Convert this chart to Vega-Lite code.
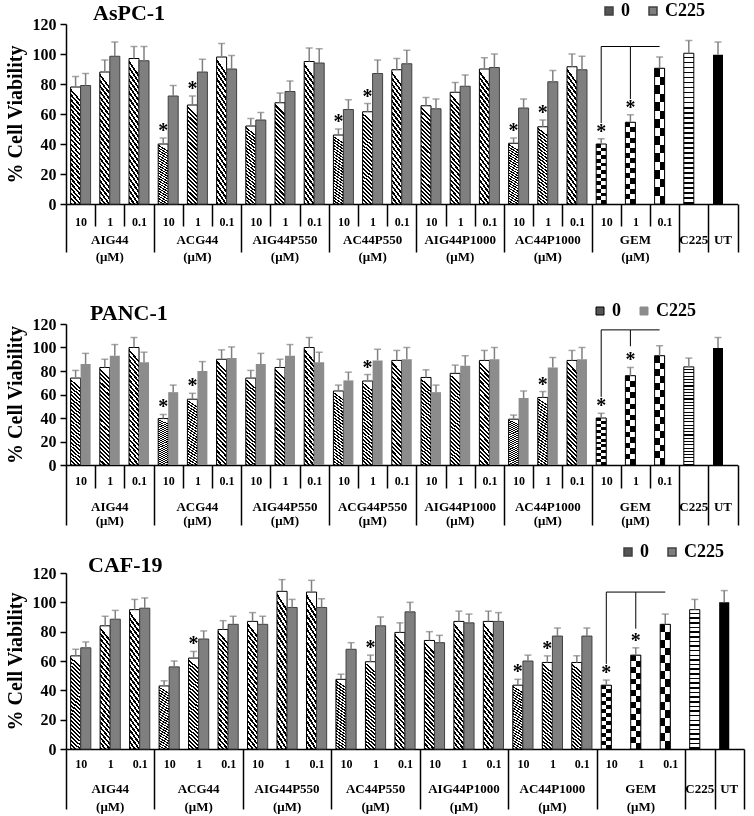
{
"$schema": "https://vega.github.io/schema/vega-lite/v6.json",
"background": "white",
"padding": {"left": 4, "top": 2, "right": 4, "bottom": 2},
"config": {
  "font": "Liberation Serif",
  "view": {"stroke": null},
  "title": {"font": "Liberation Serif", "fontSize": 22, "fontWeight": "bold", "color": "black"}
},
"datasets": {
  "p1": [
    {"g":"AIG44","k":"AIG44|10","s":"0","v":78,"hi":85},
    {"g":"AIG44","k":"AIG44|10","s":"C225","v":79,"hi":87},
    {"g":"AIG44","k":"AIG44|1","s":"0","v":88,"hi":96},
    {"g":"AIG44","k":"AIG44|1","s":"C225","v":98.5,"hi":108},
    {"g":"AIG44","k":"AIG44|0.1","s":"0","v":97,"hi":105},
    {"g":"AIG44","k":"AIG44|0.1","s":"C225","v":95.5,"hi":105},
    {"g":"ACG44","k":"ACG44|10","s":"0","v":40,"hi":44,"star":1},
    {"g":"ACG44","k":"ACG44|10","s":"C225","v":72,"hi":79},
    {"g":"ACG44","k":"ACG44|1","s":"0","v":66,"hi":72,"star":1},
    {"g":"ACG44","k":"ACG44|1","s":"C225","v":88,"hi":96.5},
    {"g":"ACG44","k":"ACG44|0.1","s":"0","v":98,"hi":107},
    {"g":"ACG44","k":"ACG44|0.1","s":"C225","v":90,"hi":99},
    {"g":"AIG44P550","k":"AIG44P550|10","s":"0","v":52,"hi":57},
    {"g":"AIG44P550","k":"AIG44P550|10","s":"C225","v":56,"hi":61},
    {"g":"AIG44P550","k":"AIG44P550|1","s":"0","v":67.5,"hi":74},
    {"g":"AIG44P550","k":"AIG44P550|1","s":"C225","v":75,"hi":82},
    {"g":"AIG44P550","k":"AIG44P550|0.1","s":"0","v":95,"hi":104},
    {"g":"AIG44P550","k":"AIG44P550|0.1","s":"C225","v":94,"hi":103.5},
    {"g":"AC44P550","k":"AC44P550|10","s":"0","v":46,"hi":50,"star":1},
    {"g":"AC44P550","k":"AC44P550|10","s":"C225","v":63,"hi":69.5},
    {"g":"AC44P550","k":"AC44P550|1","s":"0","v":61.5,"hi":67,"star":1},
    {"g":"AC44P550","k":"AC44P550|1","s":"C225","v":87,"hi":96},
    {"g":"AC44P550","k":"AC44P550|0.1","s":"0","v":89.5,"hi":97},
    {"g":"AC44P550","k":"AC44P550|0.1","s":"C225","v":93.5,"hi":102.5},
    {"g":"AIG44P1000","k":"AIG44P1000|10","s":"0","v":65.5,"hi":71},
    {"g":"AIG44P1000","k":"AIG44P1000|10","s":"C225","v":63.5,"hi":70},
    {"g":"AIG44P1000","k":"AIG44P1000|1","s":"0","v":74.5,"hi":81},
    {"g":"AIG44P1000","k":"AIG44P1000|1","s":"C225","v":78.5,"hi":86},
    {"g":"AIG44P1000","k":"AIG44P1000|0.1","s":"0","v":90,"hi":97.5},
    {"g":"AIG44P1000","k":"AIG44P1000|0.1","s":"C225","v":91,"hi":100},
    {"g":"AC44P1000","k":"AC44P1000|10","s":"0","v":40.5,"hi":44,"star":1},
    {"g":"AC44P1000","k":"AC44P1000|10","s":"C225","v":64,"hi":70},
    {"g":"AC44P1000","k":"AC44P1000|1","s":"0","v":51.5,"hi":56,"star":1},
    {"g":"AC44P1000","k":"AC44P1000|1","s":"C225","v":81.5,"hi":89},
    {"g":"AC44P1000","k":"AC44P1000|0.1","s":"0","v":91.5,"hi":100},
    {"g":"AC44P1000","k":"AC44P1000|0.1","s":"C225","v":89.5,"hi":98.5},
    {"g":"GEM","k":"GEM|10","s":"0","v":40,"hi":43.5,"star":1,"bk":105,"lo":54},
    {"g":"GEM","k":"GEM|1","s":"0","v":54.5,"hi":59.5,"star":1,"bk":105,"lo":70},
    {"g":"GEM","k":"GEM|0.1","s":"0","v":90.5,"hi":98,"bk":105},
    {"g":"C225","k":"C225|x","s":"0","v":100.5,"hi":109},
    {"g":"UT","k":"UT|x","s":"0","v":99.5,"hi":108}
  ],
  "p2": [
    {"g":"AIG44","k":"AIG44|10","s":"0","v":74,"hi":80.5},
    {"g":"AIG44","k":"AIG44|10","s":"C225","v":86,"hi":95},
    {"g":"AIG44","k":"AIG44|1","s":"0","v":83,"hi":90},
    {"g":"AIG44","k":"AIG44|1","s":"C225","v":93,"hi":102.5},
    {"g":"AIG44","k":"AIG44|0.1","s":"0","v":100,"hi":108.5},
    {"g":"AIG44","k":"AIG44|0.1","s":"C225","v":87.5,"hi":96},
    {"g":"ACG44","k":"ACG44|10","s":"0","v":39.5,"hi":43,"star":1},
    {"g":"ACG44","k":"ACG44|10","s":"C225","v":62,"hi":68},
    {"g":"ACG44","k":"ACG44|1","s":"0","v":56,"hi":61,"star":1},
    {"g":"ACG44","k":"ACG44|1","s":"C225","v":80,"hi":88},
    {"g":"ACG44","k":"ACG44|0.1","s":"0","v":90,"hi":98},
    {"g":"ACG44","k":"ACG44|0.1","s":"C225","v":91,"hi":100.5},
    {"g":"AIG44P550","k":"AIG44P550|10","s":"0","v":74,"hi":80.5},
    {"g":"AIG44P550","k":"AIG44P550|10","s":"C225","v":86,"hi":95},
    {"g":"AIG44P550","k":"AIG44P550|1","s":"0","v":83,"hi":90},
    {"g":"AIG44P550","k":"AIG44P550|1","s":"C225","v":93,"hi":102.5},
    {"g":"AIG44P550","k":"AIG44P550|0.1","s":"0","v":100,"hi":108.5},
    {"g":"AIG44P550","k":"AIG44P550|0.1","s":"C225","v":87.5,"hi":96},
    {"g":"ACG44P550","k":"ACG44P550|10","s":"0","v":63,"hi":68},
    {"g":"ACG44P550","k":"ACG44P550|10","s":"C225","v":72,"hi":79},
    {"g":"ACG44P550","k":"ACG44P550|1","s":"0","v":71.5,"hi":77,"star":1},
    {"g":"ACG44P550","k":"ACG44P550|1","s":"C225","v":89,"hi":98.5},
    {"g":"ACG44P550","k":"ACG44P550|0.1","s":"0","v":89,"hi":97.5},
    {"g":"ACG44P550","k":"ACG44P550|0.1","s":"C225","v":90,"hi":100},
    {"g":"AIG44P1000","k":"AIG44P1000|10","s":"0","v":74.5,"hi":81},
    {"g":"AIG44P1000","k":"AIG44P1000|10","s":"C225","v":62,"hi":68},
    {"g":"AIG44P1000","k":"AIG44P1000|1","s":"0","v":78,"hi":85},
    {"g":"AIG44P1000","k":"AIG44P1000|1","s":"C225","v":84.5,"hi":93},
    {"g":"AIG44P1000","k":"AIG44P1000|0.1","s":"0","v":89,"hi":97.5},
    {"g":"AIG44P1000","k":"AIG44P1000|0.1","s":"C225","v":90,"hi":100},
    {"g":"AC44P1000","k":"AC44P1000|10","s":"0","v":39,"hi":42.5},
    {"g":"AC44P1000","k":"AC44P1000|10","s":"C225","v":57,"hi":63},
    {"g":"AC44P1000","k":"AC44P1000|1","s":"0","v":57.5,"hi":62.5,"star":1},
    {"g":"AC44P1000","k":"AC44P1000|1","s":"C225","v":83,"hi":91.5},
    {"g":"AC44P1000","k":"AC44P1000|0.1","s":"0","v":89,"hi":97.5},
    {"g":"AC44P1000","k":"AC44P1000|0.1","s":"C225","v":90,"hi":100},
    {"g":"GEM","k":"GEM|10","s":"0","v":40,"hi":44,"star":1,"bk":115,"lo":58},
    {"g":"GEM","k":"GEM|1","s":"0","v":76,"hi":83,"star":1,"bk":115,"lo":101},
    {"g":"GEM","k":"GEM|0.1","s":"0","v":93,"hi":101.5,"bk":115},
    {"g":"C225","k":"C225|x","s":"0","v":83.5,"hi":91},
    {"g":"UT","k":"UT|x","s":"0","v":99.5,"hi":108.5}
  ],
  "p3": [
    {"g":"AIG44","k":"AIG44|10","s":"0","v":63.5,"hi":68},
    {"g":"AIG44","k":"AIG44|10","s":"C225","v":69,"hi":73},
    {"g":"AIG44","k":"AIG44|1","s":"0","v":84,"hi":90.5},
    {"g":"AIG44","k":"AIG44|1","s":"C225","v":88.5,"hi":94.5},
    {"g":"AIG44","k":"AIG44|0.1","s":"0","v":95,"hi":102},
    {"g":"AIG44","k":"AIG44|0.1","s":"C225","v":96,"hi":103},
    {"g":"ACG44","k":"ACG44|10","s":"0","v":43,"hi":46.5},
    {"g":"ACG44","k":"ACG44|10","s":"C225","v":56,"hi":60},
    {"g":"ACG44","k":"ACG44|1","s":"0","v":62,"hi":66.5,"star":1},
    {"g":"ACG44","k":"ACG44|1","s":"C225","v":75,"hi":80.5},
    {"g":"ACG44","k":"ACG44|0.1","s":"0","v":81.5,"hi":87.5},
    {"g":"ACG44","k":"ACG44|0.1","s":"C225","v":85,"hi":90.5},
    {"g":"AIG44P550","k":"AIG44P550|10","s":"0","v":87,"hi":93},
    {"g":"AIG44P550","k":"AIG44P550|10","s":"C225","v":85,"hi":90.5},
    {"g":"AIG44P550","k":"AIG44P550|1","s":"0","v":107.5,"hi":115.5},
    {"g":"AIG44P550","k":"AIG44P550|1","s":"C225","v":96.5,"hi":102},
    {"g":"AIG44P550","k":"AIG44P550|0.1","s":"0","v":107,"hi":115},
    {"g":"AIG44P550","k":"AIG44P550|0.1","s":"C225","v":96.5,"hi":102.5},
    {"g":"AC44P550","k":"AC44P550|10","s":"0","v":47.5,"hi":51},
    {"g":"AC44P550","k":"AC44P550|10","s":"C225","v":68,"hi":72.5},
    {"g":"AC44P550","k":"AC44P550|1","s":"0","v":59.5,"hi":64,"star":1},
    {"g":"AC44P550","k":"AC44P550|1","s":"C225","v":84,"hi":90},
    {"g":"AC44P550","k":"AC44P550|0.1","s":"0","v":79.5,"hi":86},
    {"g":"AC44P550","k":"AC44P550|0.1","s":"C225","v":93.5,"hi":100},
    {"g":"AIG44P1000","k":"AIG44P1000|10","s":"0","v":74,"hi":80},
    {"g":"AIG44P1000","k":"AIG44P1000|10","s":"C225","v":72.5,"hi":77.5},
    {"g":"AIG44P1000","k":"AIG44P1000|1","s":"0","v":87,"hi":94},
    {"g":"AIG44P1000","k":"AIG44P1000|1","s":"C225","v":86,"hi":92},
    {"g":"AIG44P1000","k":"AIG44P1000|0.1","s":"0","v":87,"hi":94},
    {"g":"AIG44P1000","k":"AIG44P1000|0.1","s":"C225","v":87,"hi":93},
    {"g":"AC44P1000","k":"AC44P1000|10","s":"0","v":43.5,"hi":47.5,"star":1},
    {"g":"AC44P1000","k":"AC44P1000|10","s":"C225","v":60,"hi":64},
    {"g":"AC44P1000","k":"AC44P1000|1","s":"0","v":59,"hi":63.5,"star":1},
    {"g":"AC44P1000","k":"AC44P1000|1","s":"C225","v":77,"hi":82.5},
    {"g":"AC44P1000","k":"AC44P1000|0.1","s":"0","v":59,"hi":63.5},
    {"g":"AC44P1000","k":"AC44P1000|0.1","s":"C225","v":77,"hi":82.5},
    {"g":"GEM","k":"GEM|10","s":"0","v":43.5,"hi":47,"star":1,"bk":107,"lo":58},
    {"g":"GEM","k":"GEM|1","s":"0","v":64,"hi":69,"star":1,"bk":107,"lo":82},
    {"g":"GEM","k":"GEM|0.1","s":"0","v":85,"hi":92,"bk":107},
    {"g":"C225","k":"C225|x","s":"0","v":95,"hi":102},
    {"g":"UT","k":"UT|x","s":"0","v":100,"hi":108}
  ]
},
"spacing": 16,
"resolve": {"scale": {"y": "independent", "x": "independent", "xOffset": "independent", "fill": "independent"}, "legend": {"fill": "independent"}},
"vconcat": [
 {
  "spacing": 39,
  "resolve": {"scale": {"y": "independent", "x": "independent", "xOffset": "independent", "fill": "independent"}, "legend": {"fill": "independent"}},
  "vconcat": [
  {
    "data": {"name": "p1"},
    "title": {"text": "AsPC-1", "anchor": "start", "frame": "group", "dx": 27, "offset": -23},
    "width": 671.6, "height": 180,
    "encoding": {
      "x": {"field": "k", "type": "nominal", "sort": ["AIG44|10","AIG44|1","AIG44|0.1","ACG44|10","ACG44|1","ACG44|0.1","AIG44P550|10","AIG44P550|1","AIG44P550|0.1","AC44P550|10","AC44P550|1","AC44P550|0.1","AIG44P1000|10","AIG44P1000|1","AIG44P1000|0.1","AC44P1000|10","AC44P1000|1","AC44P1000|0.1","GEM|10","GEM|1","GEM|0.1","C225|x","UT|x"], "scale": {"paddingInner": 0, "paddingOuter": 0}, "axis": null},
      "xOffset": {"field": "s", "type": "nominal", "scale": {"domain": ["0","C225"], "paddingInner": 0, "paddingOuter": 0.46}},
      "y": {"field": "v", "type": "quantitative", "scale": {"domain": [0,120], "nice": false}, "axis": null}
    },
    "resolve": {"axis": {"x": "independent", "y": "independent"}},
    "layer": [
      {"transform": [{"filter": "datum.s == '0' && datum.g != 'GEM' && datum.g != 'C225' && datum.g != 'UT'"}], "mark": {"type": "bar", "stroke": "black", "strokeWidth": 1, "fill": {"gradient": "linear", "x1": 0, "y1": 1, "x2": 0.1, "y2": 0, "stops": [{"offset":0,"color":"black"},{"offset":0.0208,"color":"black"},{"offset":0.0208,"color":"white"},{"offset":0.0417,"color":"white"},{"offset":0.0417,"color":"black"},{"offset":0.0625,"color":"black"},{"offset":0.0625,"color":"white"},{"offset":0.0833,"color":"white"},{"offset":0.0833,"color":"black"},{"offset":0.1042,"color":"black"},{"offset":0.1042,"color":"white"},{"offset":0.125,"color":"white"},{"offset":0.125,"color":"black"},{"offset":0.1458,"color":"black"},{"offset":0.1458,"color":"white"},{"offset":0.1667,"color":"white"},{"offset":0.1667,"color":"black"},{"offset":0.1875,"color":"black"},{"offset":0.1875,"color":"white"},{"offset":0.2083,"color":"white"},{"offset":0.2083,"color":"black"},{"offset":0.2292,"color":"black"},{"offset":0.2292,"color":"white"},{"offset":0.25,"color":"white"},{"offset":0.25,"color":"black"},{"offset":0.2708,"color":"black"},{"offset":0.2708,"color":"white"},{"offset":0.2917,"color":"white"},{"offset":0.2917,"color":"black"},{"offset":0.3125,"color":"black"},{"offset":0.3125,"color":"white"},{"offset":0.3333,"color":"white"},{"offset":0.3333,"color":"black"},{"offset":0.3542,"color":"black"},{"offset":0.3542,"color":"white"},{"offset":0.375,"color":"white"},{"offset":0.375,"color":"black"},{"offset":0.3958,"color":"black"},{"offset":0.3958,"color":"white"},{"offset":0.4167,"color":"white"},{"offset":0.4167,"color":"black"},{"offset":0.4375,"color":"black"},{"offset":0.4375,"color":"white"},{"offset":0.4583,"color":"white"},{"offset":0.4583,"color":"black"},{"offset":0.4792,"color":"black"},{"offset":0.4792,"color":"white"},{"offset":0.5,"color":"white"},{"offset":0.5,"color":"black"},{"offset":0.5208,"color":"black"},{"offset":0.5208,"color":"white"},{"offset":0.5417,"color":"white"},{"offset":0.5417,"color":"black"},{"offset":0.5625,"color":"black"},{"offset":0.5625,"color":"white"},{"offset":0.5833,"color":"white"},{"offset":0.5833,"color":"black"},{"offset":0.6042,"color":"black"},{"offset":0.6042,"color":"white"},{"offset":0.625,"color":"white"},{"offset":0.625,"color":"black"},{"offset":0.6458,"color":"black"},{"offset":0.6458,"color":"white"},{"offset":0.6667,"color":"white"},{"offset":0.6667,"color":"black"},{"offset":0.6875,"color":"black"},{"offset":0.6875,"color":"white"},{"offset":0.7083,"color":"white"},{"offset":0.7083,"color":"black"},{"offset":0.7292,"color":"black"},{"offset":0.7292,"color":"white"},{"offset":0.75,"color":"white"},{"offset":0.75,"color":"black"},{"offset":0.7708,"color":"black"},{"offset":0.7708,"color":"white"},{"offset":0.7917,"color":"white"},{"offset":0.7917,"color":"black"},{"offset":0.8125,"color":"black"},{"offset":0.8125,"color":"white"},{"offset":0.8333,"color":"white"},{"offset":0.8333,"color":"black"},{"offset":0.8542,"color":"black"},{"offset":0.8542,"color":"white"},{"offset":0.875,"color":"white"},{"offset":0.875,"color":"black"},{"offset":0.8958,"color":"black"},{"offset":0.8958,"color":"white"},{"offset":0.9167,"color":"white"},{"offset":0.9167,"color":"black"},{"offset":0.9375,"color":"black"},{"offset":0.9375,"color":"white"},{"offset":0.9583,"color":"white"},{"offset":0.9583,"color":"black"},{"offset":0.9792,"color":"black"},{"offset":0.9792,"color":"white"},{"offset":1,"color":"white"}]}},
       "encoding": {"y": {"field": "v", "type": "quantitative", "scale": {"domain": [0,120], "nice": false}, "axis": {"orient": "left", "title": "% Cell Viability", "titleFontSize": 20, "titleFontWeight": "bold", "titleColor": "black", "titlePadding": 7, "values": [0,20,40,60,80,100,120], "labelFontSize": 16, "labelFontWeight": "bold", "labelColor": "black", "labelPadding": 4, "tickSize": 6, "tickColor": "black", "tickWidth": 1.5, "domainColor": "black", "domainWidth": 1.5, "grid": false}}}},
      {"transform": [{"filter": "datum.s == 'C225'"}], "mark": {"type": "bar", "stroke": "#404040", "strokeWidth": 1},
       "encoding": {"fill": {"field": "s", "type": "nominal", "scale": {"domain": ["0","C225"], "range": ["#555555","#7f7f7f"]},
         "legend": {"title": null, "orient": "none", "legendX": 534, "legendY": -22, "direction": "horizontal", "symbolType": "square", "symbolSize": 64, "labelFontSize": 18, "labelFontWeight": "bold", "labelColor": "black", "columnPadding": 14, "labelOffset": 3,
           "encode": {"symbols": {"update": {"fill": [{"test": "datum.value === '0'", "value": {"gradient": "linear", "x1": 0, "y1": 1, "x2": 1, "y2": 0, "stops": [{"offset":0,"color":"black"},{"offset":0.17,"color":"black"},{"offset":0.17,"color":"white"},{"offset":0.33,"color":"white"},{"offset":0.33,"color":"black"},{"offset":0.5,"color":"black"},{"offset":0.5,"color":"white"},{"offset":0.67,"color":"white"},{"offset":0.67,"color":"black"},{"offset":0.83,"color":"black"},{"offset":0.83,"color":"white"},{"offset":1,"color":"white"}]}}, {"value": "#7f7f7f"}], "stroke": [{"test": "datum.value === '0'", "value": "black"}, {"value": "#404040"}], "strokeWidth": {"value": 1}}}}}}}},
      {"transform": [{"filter": "datum.g == 'GEM'"}], "mark": {"type": "bar", "fill": {"gradient": "linear", "x1": 0, "y1": 0, "x2": 1, "y2": 0, "stops": [{"offset":0,"color":"white"},{"offset":0.5,"color":"white"},{"offset":0.5,"color":"black"},{"offset":1,"color":"black"}]}}},
      {"transform": [{"filter": "datum.g == 'GEM'"}], "mark": {"type": "bar", "blend": "difference", "fill": {"gradient": "linear", "x1": 0, "y1": 0, "x2": 0, "y2": 1, "stops": [{"offset":0,"color":"white"},{"offset":0.0625,"color":"white"},{"offset":0.0625,"color":"black"},{"offset":0.125,"color":"black"},{"offset":0.125,"color":"white"},{"offset":0.1875,"color":"white"},{"offset":0.1875,"color":"black"},{"offset":0.25,"color":"black"},{"offset":0.25,"color":"white"},{"offset":0.3125,"color":"white"},{"offset":0.3125,"color":"black"},{"offset":0.375,"color":"black"},{"offset":0.375,"color":"white"},{"offset":0.4375,"color":"white"},{"offset":0.4375,"color":"black"},{"offset":0.5,"color":"black"},{"offset":0.5,"color":"white"},{"offset":0.5625,"color":"white"},{"offset":0.5625,"color":"black"},{"offset":0.625,"color":"black"},{"offset":0.625,"color":"white"},{"offset":0.6875,"color":"white"},{"offset":0.6875,"color":"black"},{"offset":0.75,"color":"black"},{"offset":0.75,"color":"white"},{"offset":0.8125,"color":"white"},{"offset":0.8125,"color":"black"},{"offset":0.875,"color":"black"},{"offset":0.875,"color":"white"},{"offset":0.9375,"color":"white"},{"offset":0.9375,"color":"black"},{"offset":1,"color":"black"}]}}},
      {"transform": [{"filter": "datum.g == 'GEM'"}], "mark": {"type": "bar", "fillOpacity": 0, "stroke": "black", "strokeWidth": 1}},
      {"transform": [{"filter": "datum.g == 'C225'"}], "mark": {"type": "bar", "stroke": "black", "strokeWidth": 1, "fill": {"gradient": "linear", "x1": 0, "y1": 0, "x2": 0, "y2": 1, "stops": [{"offset":0,"color":"white"},{"offset":0.022,"color":"white"},{"offset":0.022,"color":"black"},{"offset":0.0333,"color":"black"},{"offset":0.0333,"color":"white"},{"offset":0.0553,"color":"white"},{"offset":0.0553,"color":"black"},{"offset":0.0667,"color":"black"},{"offset":0.0667,"color":"white"},{"offset":0.0887,"color":"white"},{"offset":0.0887,"color":"black"},{"offset":0.1,"color":"black"},{"offset":0.1,"color":"white"},{"offset":0.122,"color":"white"},{"offset":0.122,"color":"black"},{"offset":0.1333,"color":"black"},{"offset":0.1333,"color":"white"},{"offset":0.1553,"color":"white"},{"offset":0.1553,"color":"black"},{"offset":0.1667,"color":"black"},{"offset":0.1667,"color":"white"},{"offset":0.1887,"color":"white"},{"offset":0.1887,"color":"black"},{"offset":0.2,"color":"black"},{"offset":0.2,"color":"white"},{"offset":0.222,"color":"white"},{"offset":0.222,"color":"black"},{"offset":0.2333,"color":"black"},{"offset":0.2333,"color":"white"},{"offset":0.2553,"color":"white"},{"offset":0.2553,"color":"black"},{"offset":0.2667,"color":"black"},{"offset":0.2667,"color":"white"},{"offset":0.2887,"color":"white"},{"offset":0.2887,"color":"black"},{"offset":0.3,"color":"black"},{"offset":0.3,"color":"white"},{"offset":0.322,"color":"white"},{"offset":0.322,"color":"black"},{"offset":0.3333,"color":"black"},{"offset":0.3333,"color":"white"},{"offset":0.3553,"color":"white"},{"offset":0.3553,"color":"black"},{"offset":0.3667,"color":"black"},{"offset":0.3667,"color":"white"},{"offset":0.3887,"color":"white"},{"offset":0.3887,"color":"black"},{"offset":0.4,"color":"black"},{"offset":0.4,"color":"white"},{"offset":0.422,"color":"white"},{"offset":0.422,"color":"black"},{"offset":0.4333,"color":"black"},{"offset":0.4333,"color":"white"},{"offset":0.4553,"color":"white"},{"offset":0.4553,"color":"black"},{"offset":0.4667,"color":"black"},{"offset":0.4667,"color":"white"},{"offset":0.4887,"color":"white"},{"offset":0.4887,"color":"black"},{"offset":0.5,"color":"black"},{"offset":0.5,"color":"white"},{"offset":0.522,"color":"white"},{"offset":0.522,"color":"black"},{"offset":0.5333,"color":"black"},{"offset":0.5333,"color":"white"},{"offset":0.5553,"color":"white"},{"offset":0.5553,"color":"black"},{"offset":0.5667,"color":"black"},{"offset":0.5667,"color":"white"},{"offset":0.5887,"color":"white"},{"offset":0.5887,"color":"black"},{"offset":0.6,"color":"black"},{"offset":0.6,"color":"white"},{"offset":0.622,"color":"white"},{"offset":0.622,"color":"black"},{"offset":0.6333,"color":"black"},{"offset":0.6333,"color":"white"},{"offset":0.6553,"color":"white"},{"offset":0.6553,"color":"black"},{"offset":0.6667,"color":"black"},{"offset":0.6667,"color":"white"},{"offset":0.6887,"color":"white"},{"offset":0.6887,"color":"black"},{"offset":0.7,"color":"black"},{"offset":0.7,"color":"white"},{"offset":0.722,"color":"white"},{"offset":0.722,"color":"black"},{"offset":0.7333,"color":"black"},{"offset":0.7333,"color":"white"},{"offset":0.7553,"color":"white"},{"offset":0.7553,"color":"black"},{"offset":0.7667,"color":"black"},{"offset":0.7667,"color":"white"},{"offset":0.7887,"color":"white"},{"offset":0.7887,"color":"black"},{"offset":0.8,"color":"black"},{"offset":0.8,"color":"white"},{"offset":0.822,"color":"white"},{"offset":0.822,"color":"black"},{"offset":0.8333,"color":"black"},{"offset":0.8333,"color":"white"},{"offset":0.8553,"color":"white"},{"offset":0.8553,"color":"black"},{"offset":0.8667,"color":"black"},{"offset":0.8667,"color":"white"},{"offset":0.8887,"color":"white"},{"offset":0.8887,"color":"black"},{"offset":0.9,"color":"black"},{"offset":0.9,"color":"white"},{"offset":0.922,"color":"white"},{"offset":0.922,"color":"black"},{"offset":0.9333,"color":"black"},{"offset":0.9333,"color":"white"},{"offset":0.9553,"color":"white"},{"offset":0.9553,"color":"black"},{"offset":0.9667,"color":"black"},{"offset":0.9667,"color":"white"},{"offset":0.9887,"color":"white"},{"offset":0.9887,"color":"black"},{"offset":1,"color":"black"}]}}},
      {"transform": [{"filter": "datum.g == 'UT'"}], "mark": {"type": "bar", "color": "black"}},
      {"mark": {"type": "rule", "color": "#808080", "strokeWidth": 1.5},
       "encoding": {"y2": {"field": "hi"},
         "x": {"field": "k", "type": "nominal", "sort": ["AIG44|10","AIG44|1","AIG44|0.1","ACG44|10","ACG44|1","ACG44|0.1","AIG44P550|10","AIG44P550|1","AIG44P550|0.1","AC44P550|10","AC44P550|1","AC44P550|0.1","AIG44P1000|10","AIG44P1000|1","AIG44P1000|0.1","AC44P1000|10","AC44P1000|1","AC44P1000|0.1","GEM|10","GEM|1","GEM|0.1","C225|x","UT|x"], "scale": {"paddingInner": 0, "paddingOuter": 0},
           "axis": {"title": null, "orient": "bottom", "domainColor": "black", "domainWidth": 1.5, "tickBand": "extent", "tickSize": {"condition": {"test": "split(datum.value,'|')[1] == '0.1' || split(datum.value,'|')[1] == 'x' || datum.extra", "value": 48}, "value": 22}, "tickColor": "black", "tickWidth": 1.5, "labelAngle": 0, "labelFontSize": 12, "labelFontWeight": "bold", "labelColor": "black", "labelPadding": {"condition": {"test": "split(datum.value,'|')[1] == '0.1' || split(datum.value,'|')[1] == 'x' || datum.extra", "value": -36}, "value": -10}, "labelOverlap": false, "labelExpr": "split(datum.value,'|')[1] == 'x' ? '' : split(datum.value,'|')[1]"}}}},
      {"mark": {"type": "tick", "color": "#808080", "size": 7, "thickness": 1.5},
       "encoding": {"y": {"field": "hi", "type": "quantitative", "scale": {"domain": [0,120], "nice": false}, "axis": null},
         "x": {"field": "k", "type": "nominal", "sort": ["AIG44|10","AIG44|1","AIG44|0.1","ACG44|10","ACG44|1","ACG44|0.1","AIG44P550|10","AIG44P550|1","AIG44P550|0.1","AC44P550|10","AC44P550|1","AC44P550|0.1","AIG44P1000|10","AIG44P1000|1","AIG44P1000|0.1","AC44P1000|10","AC44P1000|1","AC44P1000|0.1","GEM|10","GEM|1","GEM|0.1","C225|x","UT|x"], "scale": {"paddingInner": 0, "paddingOuter": 0},
           "axis": {"title": null, "orient": "bottom", "domain": false, "ticks": false, "values": ["AIG44|10","ACG44|10","AIG44P550|10","AC44P550|10","AIG44P1000|10","AC44P1000|10","GEM|10","C225|x","UT|x"], "labelAngle": 0, "labelFontSize": 13, "labelFontWeight": "bold", "labelColor": "black", "labelLineHeight": 17, "labelBaseline": "top", "labelPadding": 29, "labelOverlap": false, "labelOffset": {"condition": {"test": "split(datum.value,'|')[1] == 'x'", "value": 0}, "value": 29.2}, "labelExpr": "split(datum.value,'|')[1] == 'x' ? split(datum.value,'|')[0] : [split(datum.value,'|')[0], '(μM)']"}}}},
      {"transform": [{"filter": "datum.star == 1"}], "mark": {"type": "text", "text": "*", "fontSize": 20, "fontWeight": "bold", "baseline": "alphabetic", "dy": -1, "color": "black"},
       "encoding": {"y": {"field": "hi", "type": "quantitative", "scale": {"domain": [0,120], "nice": false}, "axis": null}}},
      {"transform": [{"filter": "isValid(datum.lo)"}], "mark": {"type": "rule", "color": "black", "strokeWidth": 1},
       "encoding": {"y": {"field": "lo", "type": "quantitative", "scale": {"domain": [0,120], "nice": false}, "axis": null}, "y2": {"field": "bk"}}},
      {"transform": [{"filter": "isValid(datum.bk)"}], "mark": {"type": "line", "color": "black", "strokeWidth": 1},
       "encoding": {"y": {"field": "bk", "type": "quantitative", "scale": {"domain": [0,120], "nice": false}, "axis": null}}}
    ]
  },
  {
    "data": {"name": "p2"},
    "title": {"text": "PANC-1", "anchor": "start", "frame": "group", "dx": 24, "offset": -23},
    "width": 671.6, "height": 141,
    "encoding": {
      "x": {"field": "k", "type": "nominal", "sort": ["AIG44|10","AIG44|1","AIG44|0.1","ACG44|10","ACG44|1","ACG44|0.1","AIG44P550|10","AIG44P550|1","AIG44P550|0.1","ACG44P550|10","ACG44P550|1","ACG44P550|0.1","AIG44P1000|10","AIG44P1000|1","AIG44P1000|0.1","AC44P1000|10","AC44P1000|1","AC44P1000|0.1","GEM|10","GEM|1","GEM|0.1","C225|x","UT|x"], "scale": {"paddingInner": 0, "paddingOuter": 0}, "axis": null},
      "xOffset": {"field": "s", "type": "nominal", "scale": {"domain": ["0","C225"], "paddingInner": 0, "paddingOuter": 0.46}},
      "y": {"field": "v", "type": "quantitative", "scale": {"domain": [0,120], "nice": false}, "axis": null}
    },
    "resolve": {"axis": {"x": "independent", "y": "independent"}},
    "layer": [
      {"transform": [{"filter": "datum.s == '0' && datum.g != 'GEM' && datum.g != 'C225' && datum.g != 'UT'"}], "mark": {"type": "bar", "stroke": "black", "strokeWidth": 1, "fill": {"gradient": "linear", "x1": 0, "y1": 1, "x2": 0.1, "y2": 0, "stops": [{"offset":0,"color":"black"},{"offset":0.0208,"color":"black"},{"offset":0.0208,"color":"white"},{"offset":0.0417,"color":"white"},{"offset":0.0417,"color":"black"},{"offset":0.0625,"color":"black"},{"offset":0.0625,"color":"white"},{"offset":0.0833,"color":"white"},{"offset":0.0833,"color":"black"},{"offset":0.1042,"color":"black"},{"offset":0.1042,"color":"white"},{"offset":0.125,"color":"white"},{"offset":0.125,"color":"black"},{"offset":0.1458,"color":"black"},{"offset":0.1458,"color":"white"},{"offset":0.1667,"color":"white"},{"offset":0.1667,"color":"black"},{"offset":0.1875,"color":"black"},{"offset":0.1875,"color":"white"},{"offset":0.2083,"color":"white"},{"offset":0.2083,"color":"black"},{"offset":0.2292,"color":"black"},{"offset":0.2292,"color":"white"},{"offset":0.25,"color":"white"},{"offset":0.25,"color":"black"},{"offset":0.2708,"color":"black"},{"offset":0.2708,"color":"white"},{"offset":0.2917,"color":"white"},{"offset":0.2917,"color":"black"},{"offset":0.3125,"color":"black"},{"offset":0.3125,"color":"white"},{"offset":0.3333,"color":"white"},{"offset":0.3333,"color":"black"},{"offset":0.3542,"color":"black"},{"offset":0.3542,"color":"white"},{"offset":0.375,"color":"white"},{"offset":0.375,"color":"black"},{"offset":0.3958,"color":"black"},{"offset":0.3958,"color":"white"},{"offset":0.4167,"color":"white"},{"offset":0.4167,"color":"black"},{"offset":0.4375,"color":"black"},{"offset":0.4375,"color":"white"},{"offset":0.4583,"color":"white"},{"offset":0.4583,"color":"black"},{"offset":0.4792,"color":"black"},{"offset":0.4792,"color":"white"},{"offset":0.5,"color":"white"},{"offset":0.5,"color":"black"},{"offset":0.5208,"color":"black"},{"offset":0.5208,"color":"white"},{"offset":0.5417,"color":"white"},{"offset":0.5417,"color":"black"},{"offset":0.5625,"color":"black"},{"offset":0.5625,"color":"white"},{"offset":0.5833,"color":"white"},{"offset":0.5833,"color":"black"},{"offset":0.6042,"color":"black"},{"offset":0.6042,"color":"white"},{"offset":0.625,"color":"white"},{"offset":0.625,"color":"black"},{"offset":0.6458,"color":"black"},{"offset":0.6458,"color":"white"},{"offset":0.6667,"color":"white"},{"offset":0.6667,"color":"black"},{"offset":0.6875,"color":"black"},{"offset":0.6875,"color":"white"},{"offset":0.7083,"color":"white"},{"offset":0.7083,"color":"black"},{"offset":0.7292,"color":"black"},{"offset":0.7292,"color":"white"},{"offset":0.75,"color":"white"},{"offset":0.75,"color":"black"},{"offset":0.7708,"color":"black"},{"offset":0.7708,"color":"white"},{"offset":0.7917,"color":"white"},{"offset":0.7917,"color":"black"},{"offset":0.8125,"color":"black"},{"offset":0.8125,"color":"white"},{"offset":0.8333,"color":"white"},{"offset":0.8333,"color":"black"},{"offset":0.8542,"color":"black"},{"offset":0.8542,"color":"white"},{"offset":0.875,"color":"white"},{"offset":0.875,"color":"black"},{"offset":0.8958,"color":"black"},{"offset":0.8958,"color":"white"},{"offset":0.9167,"color":"white"},{"offset":0.9167,"color":"black"},{"offset":0.9375,"color":"black"},{"offset":0.9375,"color":"white"},{"offset":0.9583,"color":"white"},{"offset":0.9583,"color":"black"},{"offset":0.9792,"color":"black"},{"offset":0.9792,"color":"white"},{"offset":1,"color":"white"}]}},
       "encoding": {"y": {"field": "v", "type": "quantitative", "scale": {"domain": [0,120], "nice": false}, "axis": {"orient": "left", "title": "% Cell Viability", "titleFontSize": 20, "titleFontWeight": "bold", "titleColor": "black", "titlePadding": 7, "values": [0,20,40,60,80,100,120], "labelFontSize": 16, "labelFontWeight": "bold", "labelColor": "black", "labelPadding": 4, "tickSize": 6, "tickColor": "black", "tickWidth": 1.5, "domainColor": "black", "domainWidth": 1.5, "grid": false}}}},
      {"transform": [{"filter": "datum.s == 'C225'"}], "mark": {"type": "bar"},
       "encoding": {"fill": {"field": "s", "type": "nominal", "scale": {"domain": ["0","C225"], "range": ["#555555","#8c8c8c"]},
         "legend": {"title": null, "orient": "none", "legendX": 525, "legendY": -22, "direction": "horizontal", "symbolType": "square", "symbolSize": 64, "labelFontSize": 18, "labelFontWeight": "bold", "labelColor": "black", "columnPadding": 14, "labelOffset": 3,
           "encode": {"symbols": {"update": {"fill": [{"test": "datum.value === '0'", "value": {"gradient": "linear", "x1": 0, "y1": 1, "x2": 1, "y2": 0, "stops": [{"offset":0,"color":"black"},{"offset":0.17,"color":"black"},{"offset":0.17,"color":"white"},{"offset":0.33,"color":"white"},{"offset":0.33,"color":"black"},{"offset":0.5,"color":"black"},{"offset":0.5,"color":"white"},{"offset":0.67,"color":"white"},{"offset":0.67,"color":"black"},{"offset":0.83,"color":"black"},{"offset":0.83,"color":"white"},{"offset":1,"color":"white"}]}}, {"value": "#8c8c8c"}], "stroke": [{"test": "datum.value === '0'", "value": "black"}, {"value": "#8c8c8c"}], "strokeWidth": {"value": 1}}}}}}}},
      {"transform": [{"filter": "datum.g == 'GEM'"}], "mark": {"type": "bar", "fill": {"gradient": "linear", "x1": 0, "y1": 0, "x2": 1, "y2": 0, "stops": [{"offset":0,"color":"white"},{"offset":0.5,"color":"white"},{"offset":0.5,"color":"black"},{"offset":1,"color":"black"}]}}},
      {"transform": [{"filter": "datum.g == 'GEM'"}], "mark": {"type": "bar", "blend": "difference", "fill": {"gradient": "linear", "x1": 0, "y1": 0, "x2": 0, "y2": 1, "stops": [{"offset":0,"color":"white"},{"offset":0.0625,"color":"white"},{"offset":0.0625,"color":"black"},{"offset":0.125,"color":"black"},{"offset":0.125,"color":"white"},{"offset":0.1875,"color":"white"},{"offset":0.1875,"color":"black"},{"offset":0.25,"color":"black"},{"offset":0.25,"color":"white"},{"offset":0.3125,"color":"white"},{"offset":0.3125,"color":"black"},{"offset":0.375,"color":"black"},{"offset":0.375,"color":"white"},{"offset":0.4375,"color":"white"},{"offset":0.4375,"color":"black"},{"offset":0.5,"color":"black"},{"offset":0.5,"color":"white"},{"offset":0.5625,"color":"white"},{"offset":0.5625,"color":"black"},{"offset":0.625,"color":"black"},{"offset":0.625,"color":"white"},{"offset":0.6875,"color":"white"},{"offset":0.6875,"color":"black"},{"offset":0.75,"color":"black"},{"offset":0.75,"color":"white"},{"offset":0.8125,"color":"white"},{"offset":0.8125,"color":"black"},{"offset":0.875,"color":"black"},{"offset":0.875,"color":"white"},{"offset":0.9375,"color":"white"},{"offset":0.9375,"color":"black"},{"offset":1,"color":"black"}]}}},
      {"transform": [{"filter": "datum.g == 'GEM'"}], "mark": {"type": "bar", "fillOpacity": 0, "stroke": "black", "strokeWidth": 1}},
      {"transform": [{"filter": "datum.g == 'C225'"}], "mark": {"type": "bar", "stroke": "black", "strokeWidth": 1, "fill": {"gradient": "linear", "x1": 0, "y1": 0, "x2": 0, "y2": 1, "stops": [{"offset":0,"color":"white"},{"offset":0.022,"color":"white"},{"offset":0.022,"color":"black"},{"offset":0.0333,"color":"black"},{"offset":0.0333,"color":"white"},{"offset":0.0553,"color":"white"},{"offset":0.0553,"color":"black"},{"offset":0.0667,"color":"black"},{"offset":0.0667,"color":"white"},{"offset":0.0887,"color":"white"},{"offset":0.0887,"color":"black"},{"offset":0.1,"color":"black"},{"offset":0.1,"color":"white"},{"offset":0.122,"color":"white"},{"offset":0.122,"color":"black"},{"offset":0.1333,"color":"black"},{"offset":0.1333,"color":"white"},{"offset":0.1553,"color":"white"},{"offset":0.1553,"color":"black"},{"offset":0.1667,"color":"black"},{"offset":0.1667,"color":"white"},{"offset":0.1887,"color":"white"},{"offset":0.1887,"color":"black"},{"offset":0.2,"color":"black"},{"offset":0.2,"color":"white"},{"offset":0.222,"color":"white"},{"offset":0.222,"color":"black"},{"offset":0.2333,"color":"black"},{"offset":0.2333,"color":"white"},{"offset":0.2553,"color":"white"},{"offset":0.2553,"color":"black"},{"offset":0.2667,"color":"black"},{"offset":0.2667,"color":"white"},{"offset":0.2887,"color":"white"},{"offset":0.2887,"color":"black"},{"offset":0.3,"color":"black"},{"offset":0.3,"color":"white"},{"offset":0.322,"color":"white"},{"offset":0.322,"color":"black"},{"offset":0.3333,"color":"black"},{"offset":0.3333,"color":"white"},{"offset":0.3553,"color":"white"},{"offset":0.3553,"color":"black"},{"offset":0.3667,"color":"black"},{"offset":0.3667,"color":"white"},{"offset":0.3887,"color":"white"},{"offset":0.3887,"color":"black"},{"offset":0.4,"color":"black"},{"offset":0.4,"color":"white"},{"offset":0.422,"color":"white"},{"offset":0.422,"color":"black"},{"offset":0.4333,"color":"black"},{"offset":0.4333,"color":"white"},{"offset":0.4553,"color":"white"},{"offset":0.4553,"color":"black"},{"offset":0.4667,"color":"black"},{"offset":0.4667,"color":"white"},{"offset":0.4887,"color":"white"},{"offset":0.4887,"color":"black"},{"offset":0.5,"color":"black"},{"offset":0.5,"color":"white"},{"offset":0.522,"color":"white"},{"offset":0.522,"color":"black"},{"offset":0.5333,"color":"black"},{"offset":0.5333,"color":"white"},{"offset":0.5553,"color":"white"},{"offset":0.5553,"color":"black"},{"offset":0.5667,"color":"black"},{"offset":0.5667,"color":"white"},{"offset":0.5887,"color":"white"},{"offset":0.5887,"color":"black"},{"offset":0.6,"color":"black"},{"offset":0.6,"color":"white"},{"offset":0.622,"color":"white"},{"offset":0.622,"color":"black"},{"offset":0.6333,"color":"black"},{"offset":0.6333,"color":"white"},{"offset":0.6553,"color":"white"},{"offset":0.6553,"color":"black"},{"offset":0.6667,"color":"black"},{"offset":0.6667,"color":"white"},{"offset":0.6887,"color":"white"},{"offset":0.6887,"color":"black"},{"offset":0.7,"color":"black"},{"offset":0.7,"color":"white"},{"offset":0.722,"color":"white"},{"offset":0.722,"color":"black"},{"offset":0.7333,"color":"black"},{"offset":0.7333,"color":"white"},{"offset":0.7553,"color":"white"},{"offset":0.7553,"color":"black"},{"offset":0.7667,"color":"black"},{"offset":0.7667,"color":"white"},{"offset":0.7887,"color":"white"},{"offset":0.7887,"color":"black"},{"offset":0.8,"color":"black"},{"offset":0.8,"color":"white"},{"offset":0.822,"color":"white"},{"offset":0.822,"color":"black"},{"offset":0.8333,"color":"black"},{"offset":0.8333,"color":"white"},{"offset":0.8553,"color":"white"},{"offset":0.8553,"color":"black"},{"offset":0.8667,"color":"black"},{"offset":0.8667,"color":"white"},{"offset":0.8887,"color":"white"},{"offset":0.8887,"color":"black"},{"offset":0.9,"color":"black"},{"offset":0.9,"color":"white"},{"offset":0.922,"color":"white"},{"offset":0.922,"color":"black"},{"offset":0.9333,"color":"black"},{"offset":0.9333,"color":"white"},{"offset":0.9553,"color":"white"},{"offset":0.9553,"color":"black"},{"offset":0.9667,"color":"black"},{"offset":0.9667,"color":"white"},{"offset":0.9887,"color":"white"},{"offset":0.9887,"color":"black"},{"offset":1,"color":"black"}]}}},
      {"transform": [{"filter": "datum.g == 'UT'"}], "mark": {"type": "bar", "color": "black"}},
      {"mark": {"type": "rule", "color": "#808080", "strokeWidth": 1.5},
       "encoding": {"y2": {"field": "hi"},
         "x": {"field": "k", "type": "nominal", "sort": ["AIG44|10","AIG44|1","AIG44|0.1","ACG44|10","ACG44|1","ACG44|0.1","AIG44P550|10","AIG44P550|1","AIG44P550|0.1","ACG44P550|10","ACG44P550|1","ACG44P550|0.1","AIG44P1000|10","AIG44P1000|1","AIG44P1000|0.1","AC44P1000|10","AC44P1000|1","AC44P1000|0.1","GEM|10","GEM|1","GEM|0.1","C225|x","UT|x"], "scale": {"paddingInner": 0, "paddingOuter": 0},
           "axis": {"title": null, "orient": "bottom", "domainColor": "black", "domainWidth": 1.5, "tickBand": "extent", "tickSize": {"condition": {"test": "split(datum.value,'|')[1] == '0.1' || split(datum.value,'|')[1] == 'x' || datum.extra", "value": 60}, "value": 23}, "tickColor": "black", "tickWidth": 1.5, "labelAngle": 0, "labelFontSize": 12, "labelFontWeight": "bold", "labelColor": "black", "labelPadding": {"condition": {"test": "split(datum.value,'|')[1] == '0.1' || split(datum.value,'|')[1] == 'x' || datum.extra", "value": -50}, "value": -13}, "labelOverlap": false, "labelExpr": "split(datum.value,'|')[1] == 'x' ? '' : split(datum.value,'|')[1]"}}}},
      {"mark": {"type": "tick", "color": "#808080", "size": 7, "thickness": 1.5},
       "encoding": {"y": {"field": "hi", "type": "quantitative", "scale": {"domain": [0,120], "nice": false}, "axis": null},
         "x": {"field": "k", "type": "nominal", "sort": ["AIG44|10","AIG44|1","AIG44|0.1","ACG44|10","ACG44|1","ACG44|0.1","AIG44P550|10","AIG44P550|1","AIG44P550|0.1","ACG44P550|10","ACG44P550|1","ACG44P550|0.1","AIG44P1000|10","AIG44P1000|1","AIG44P1000|0.1","AC44P1000|10","AC44P1000|1","AC44P1000|0.1","GEM|10","GEM|1","GEM|0.1","C225|x","UT|x"], "scale": {"paddingInner": 0, "paddingOuter": 0},
           "axis": {"title": null, "orient": "bottom", "domain": false, "ticks": false, "values": ["AIG44|10","ACG44|10","AIG44P550|10","ACG44P550|10","AIG44P1000|10","AC44P1000|10","GEM|10","C225|x","UT|x"], "labelAngle": 0, "labelFontSize": 13, "labelFontWeight": "bold", "labelColor": "black", "labelLineHeight": 14, "labelBaseline": "top", "labelPadding": 35, "labelOverlap": false, "labelOffset": {"condition": {"test": "split(datum.value,'|')[1] == 'x'", "value": 0}, "value": 29.2}, "labelExpr": "split(datum.value,'|')[1] == 'x' ? split(datum.value,'|')[0] : [split(datum.value,'|')[0], '(μM)']"}}}},
      {"transform": [{"filter": "datum.star == 1"}], "mark": {"type": "text", "text": "*", "fontSize": 20, "fontWeight": "bold", "baseline": "alphabetic", "dy": -1, "color": "black"},
       "encoding": {"y": {"field": "hi", "type": "quantitative", "scale": {"domain": [0,120], "nice": false}, "axis": null}}},
      {"transform": [{"filter": "isValid(datum.lo)"}], "mark": {"type": "rule", "color": "black", "strokeWidth": 1},
       "encoding": {"y": {"field": "lo", "type": "quantitative", "scale": {"domain": [0,120], "nice": false}, "axis": null}, "y2": {"field": "bk"}}},
      {"transform": [{"filter": "isValid(datum.bk)"}], "mark": {"type": "line", "color": "black", "strokeWidth": 1},
       "encoding": {"y": {"field": "bk", "type": "quantitative", "scale": {"domain": [0,120], "nice": false}, "axis": null}}}
    ]
  }
  ]
 },
  {
    "data": {"name": "p3"},
    "title": {"text": "CAF-19", "anchor": "start", "frame": "group", "dx": 22, "offset": -34},
    "width": 678, "height": 176,
    "encoding": {
      "x": {"field": "k", "type": "nominal", "sort": ["AIG44|10","AIG44|1","AIG44|0.1","ACG44|10","ACG44|1","ACG44|0.1","AIG44P550|10","AIG44P550|1","AIG44P550|0.1","AC44P550|10","AC44P550|1","AC44P550|0.1","AIG44P1000|10","AIG44P1000|1","AIG44P1000|0.1","AC44P1000|10","AC44P1000|1","AC44P1000|0.1","GEM|10","GEM|1","GEM|0.1","C225|x","UT|x"], "scale": {"paddingInner": 0, "paddingOuter": 0}, "axis": null},
      "xOffset": {"field": "s", "type": "nominal", "scale": {"domain": ["0","C225"], "paddingInner": 0, "paddingOuter": 0.46}},
      "y": {"field": "v", "type": "quantitative", "scale": {"domain": [0,120], "nice": false}, "axis": null}
    },
    "resolve": {"axis": {"x": "independent", "y": "independent"}},
    "layer": [
      {"transform": [{"filter": "datum.s == '0' && datum.g != 'GEM' && datum.g != 'C225' && datum.g != 'UT'"}], "mark": {"type": "bar", "stroke": "black", "strokeWidth": 1, "fill": {"gradient": "linear", "x1": 0, "y1": 1, "x2": 0.1, "y2": 0, "stops": [{"offset":0,"color":"black"},{"offset":0.0208,"color":"black"},{"offset":0.0208,"color":"white"},{"offset":0.0417,"color":"white"},{"offset":0.0417,"color":"black"},{"offset":0.0625,"color":"black"},{"offset":0.0625,"color":"white"},{"offset":0.0833,"color":"white"},{"offset":0.0833,"color":"black"},{"offset":0.1042,"color":"black"},{"offset":0.1042,"color":"white"},{"offset":0.125,"color":"white"},{"offset":0.125,"color":"black"},{"offset":0.1458,"color":"black"},{"offset":0.1458,"color":"white"},{"offset":0.1667,"color":"white"},{"offset":0.1667,"color":"black"},{"offset":0.1875,"color":"black"},{"offset":0.1875,"color":"white"},{"offset":0.2083,"color":"white"},{"offset":0.2083,"color":"black"},{"offset":0.2292,"color":"black"},{"offset":0.2292,"color":"white"},{"offset":0.25,"color":"white"},{"offset":0.25,"color":"black"},{"offset":0.2708,"color":"black"},{"offset":0.2708,"color":"white"},{"offset":0.2917,"color":"white"},{"offset":0.2917,"color":"black"},{"offset":0.3125,"color":"black"},{"offset":0.3125,"color":"white"},{"offset":0.3333,"color":"white"},{"offset":0.3333,"color":"black"},{"offset":0.3542,"color":"black"},{"offset":0.3542,"color":"white"},{"offset":0.375,"color":"white"},{"offset":0.375,"color":"black"},{"offset":0.3958,"color":"black"},{"offset":0.3958,"color":"white"},{"offset":0.4167,"color":"white"},{"offset":0.4167,"color":"black"},{"offset":0.4375,"color":"black"},{"offset":0.4375,"color":"white"},{"offset":0.4583,"color":"white"},{"offset":0.4583,"color":"black"},{"offset":0.4792,"color":"black"},{"offset":0.4792,"color":"white"},{"offset":0.5,"color":"white"},{"offset":0.5,"color":"black"},{"offset":0.5208,"color":"black"},{"offset":0.5208,"color":"white"},{"offset":0.5417,"color":"white"},{"offset":0.5417,"color":"black"},{"offset":0.5625,"color":"black"},{"offset":0.5625,"color":"white"},{"offset":0.5833,"color":"white"},{"offset":0.5833,"color":"black"},{"offset":0.6042,"color":"black"},{"offset":0.6042,"color":"white"},{"offset":0.625,"color":"white"},{"offset":0.625,"color":"black"},{"offset":0.6458,"color":"black"},{"offset":0.6458,"color":"white"},{"offset":0.6667,"color":"white"},{"offset":0.6667,"color":"black"},{"offset":0.6875,"color":"black"},{"offset":0.6875,"color":"white"},{"offset":0.7083,"color":"white"},{"offset":0.7083,"color":"black"},{"offset":0.7292,"color":"black"},{"offset":0.7292,"color":"white"},{"offset":0.75,"color":"white"},{"offset":0.75,"color":"black"},{"offset":0.7708,"color":"black"},{"offset":0.7708,"color":"white"},{"offset":0.7917,"color":"white"},{"offset":0.7917,"color":"black"},{"offset":0.8125,"color":"black"},{"offset":0.8125,"color":"white"},{"offset":0.8333,"color":"white"},{"offset":0.8333,"color":"black"},{"offset":0.8542,"color":"black"},{"offset":0.8542,"color":"white"},{"offset":0.875,"color":"white"},{"offset":0.875,"color":"black"},{"offset":0.8958,"color":"black"},{"offset":0.8958,"color":"white"},{"offset":0.9167,"color":"white"},{"offset":0.9167,"color":"black"},{"offset":0.9375,"color":"black"},{"offset":0.9375,"color":"white"},{"offset":0.9583,"color":"white"},{"offset":0.9583,"color":"black"},{"offset":0.9792,"color":"black"},{"offset":0.9792,"color":"white"},{"offset":1,"color":"white"}]}},
       "encoding": {"y": {"field": "v", "type": "quantitative", "scale": {"domain": [0,120], "nice": false}, "axis": {"orient": "left", "title": "% Cell Viability", "titleFontSize": 20, "titleFontWeight": "bold", "titleColor": "black", "titlePadding": 7, "values": [0,20,40,60,80,100,120], "labelFontSize": 16, "labelFontWeight": "bold", "labelColor": "black", "labelPadding": 4, "tickSize": 6, "tickColor": "black", "tickWidth": 1.5, "domainColor": "black", "domainWidth": 1.5, "grid": false}}}},
      {"transform": [{"filter": "datum.s == 'C225'"}], "mark": {"type": "bar", "stroke": "#404040", "strokeWidth": 1},
       "encoding": {"fill": {"field": "s", "type": "nominal", "scale": {"domain": ["0","C225"], "range": ["#555555","#7f7f7f"]},
         "legend": {"title": null, "orient": "none", "legendX": 553, "legendY": -30, "direction": "horizontal", "symbolType": "square", "symbolSize": 64, "labelFontSize": 18, "labelFontWeight": "bold", "labelColor": "black", "columnPadding": 14, "labelOffset": 3,
           "encode": {"symbols": {"update": {"fill": [{"test": "datum.value === '0'", "value": {"gradient": "linear", "x1": 0, "y1": 1, "x2": 1, "y2": 0, "stops": [{"offset":0,"color":"black"},{"offset":0.17,"color":"black"},{"offset":0.17,"color":"white"},{"offset":0.33,"color":"white"},{"offset":0.33,"color":"black"},{"offset":0.5,"color":"black"},{"offset":0.5,"color":"white"},{"offset":0.67,"color":"white"},{"offset":0.67,"color":"black"},{"offset":0.83,"color":"black"},{"offset":0.83,"color":"white"},{"offset":1,"color":"white"}]}}, {"value": "#7f7f7f"}], "stroke": [{"test": "datum.value === '0'", "value": "black"}, {"value": "#404040"}], "strokeWidth": {"value": 1}}}}}}}},
      {"transform": [{"filter": "datum.g == 'GEM'"}], "mark": {"type": "bar", "fill": {"gradient": "linear", "x1": 0, "y1": 0, "x2": 1, "y2": 0, "stops": [{"offset":0,"color":"white"},{"offset":0.5,"color":"white"},{"offset":0.5,"color":"black"},{"offset":1,"color":"black"}]}}},
      {"transform": [{"filter": "datum.g == 'GEM'"}], "mark": {"type": "bar", "blend": "difference", "fill": {"gradient": "linear", "x1": 0, "y1": 0, "x2": 0, "y2": 1, "stops": [{"offset":0,"color":"white"},{"offset":0.0625,"color":"white"},{"offset":0.0625,"color":"black"},{"offset":0.125,"color":"black"},{"offset":0.125,"color":"white"},{"offset":0.1875,"color":"white"},{"offset":0.1875,"color":"black"},{"offset":0.25,"color":"black"},{"offset":0.25,"color":"white"},{"offset":0.3125,"color":"white"},{"offset":0.3125,"color":"black"},{"offset":0.375,"color":"black"},{"offset":0.375,"color":"white"},{"offset":0.4375,"color":"white"},{"offset":0.4375,"color":"black"},{"offset":0.5,"color":"black"},{"offset":0.5,"color":"white"},{"offset":0.5625,"color":"white"},{"offset":0.5625,"color":"black"},{"offset":0.625,"color":"black"},{"offset":0.625,"color":"white"},{"offset":0.6875,"color":"white"},{"offset":0.6875,"color":"black"},{"offset":0.75,"color":"black"},{"offset":0.75,"color":"white"},{"offset":0.8125,"color":"white"},{"offset":0.8125,"color":"black"},{"offset":0.875,"color":"black"},{"offset":0.875,"color":"white"},{"offset":0.9375,"color":"white"},{"offset":0.9375,"color":"black"},{"offset":1,"color":"black"}]}}},
      {"transform": [{"filter": "datum.g == 'GEM'"}], "mark": {"type": "bar", "fillOpacity": 0, "stroke": "black", "strokeWidth": 1}},
      {"transform": [{"filter": "datum.g == 'C225'"}], "mark": {"type": "bar", "stroke": "black", "strokeWidth": 1, "fill": {"gradient": "linear", "x1": 0, "y1": 0, "x2": 0, "y2": 1, "stops": [{"offset":0,"color":"white"},{"offset":0.022,"color":"white"},{"offset":0.022,"color":"black"},{"offset":0.0333,"color":"black"},{"offset":0.0333,"color":"white"},{"offset":0.0553,"color":"white"},{"offset":0.0553,"color":"black"},{"offset":0.0667,"color":"black"},{"offset":0.0667,"color":"white"},{"offset":0.0887,"color":"white"},{"offset":0.0887,"color":"black"},{"offset":0.1,"color":"black"},{"offset":0.1,"color":"white"},{"offset":0.122,"color":"white"},{"offset":0.122,"color":"black"},{"offset":0.1333,"color":"black"},{"offset":0.1333,"color":"white"},{"offset":0.1553,"color":"white"},{"offset":0.1553,"color":"black"},{"offset":0.1667,"color":"black"},{"offset":0.1667,"color":"white"},{"offset":0.1887,"color":"white"},{"offset":0.1887,"color":"black"},{"offset":0.2,"color":"black"},{"offset":0.2,"color":"white"},{"offset":0.222,"color":"white"},{"offset":0.222,"color":"black"},{"offset":0.2333,"color":"black"},{"offset":0.2333,"color":"white"},{"offset":0.2553,"color":"white"},{"offset":0.2553,"color":"black"},{"offset":0.2667,"color":"black"},{"offset":0.2667,"color":"white"},{"offset":0.2887,"color":"white"},{"offset":0.2887,"color":"black"},{"offset":0.3,"color":"black"},{"offset":0.3,"color":"white"},{"offset":0.322,"color":"white"},{"offset":0.322,"color":"black"},{"offset":0.3333,"color":"black"},{"offset":0.3333,"color":"white"},{"offset":0.3553,"color":"white"},{"offset":0.3553,"color":"black"},{"offset":0.3667,"color":"black"},{"offset":0.3667,"color":"white"},{"offset":0.3887,"color":"white"},{"offset":0.3887,"color":"black"},{"offset":0.4,"color":"black"},{"offset":0.4,"color":"white"},{"offset":0.422,"color":"white"},{"offset":0.422,"color":"black"},{"offset":0.4333,"color":"black"},{"offset":0.4333,"color":"white"},{"offset":0.4553,"color":"white"},{"offset":0.4553,"color":"black"},{"offset":0.4667,"color":"black"},{"offset":0.4667,"color":"white"},{"offset":0.4887,"color":"white"},{"offset":0.4887,"color":"black"},{"offset":0.5,"color":"black"},{"offset":0.5,"color":"white"},{"offset":0.522,"color":"white"},{"offset":0.522,"color":"black"},{"offset":0.5333,"color":"black"},{"offset":0.5333,"color":"white"},{"offset":0.5553,"color":"white"},{"offset":0.5553,"color":"black"},{"offset":0.5667,"color":"black"},{"offset":0.5667,"color":"white"},{"offset":0.5887,"color":"white"},{"offset":0.5887,"color":"black"},{"offset":0.6,"color":"black"},{"offset":0.6,"color":"white"},{"offset":0.622,"color":"white"},{"offset":0.622,"color":"black"},{"offset":0.6333,"color":"black"},{"offset":0.6333,"color":"white"},{"offset":0.6553,"color":"white"},{"offset":0.6553,"color":"black"},{"offset":0.6667,"color":"black"},{"offset":0.6667,"color":"white"},{"offset":0.6887,"color":"white"},{"offset":0.6887,"color":"black"},{"offset":0.7,"color":"black"},{"offset":0.7,"color":"white"},{"offset":0.722,"color":"white"},{"offset":0.722,"color":"black"},{"offset":0.7333,"color":"black"},{"offset":0.7333,"color":"white"},{"offset":0.7553,"color":"white"},{"offset":0.7553,"color":"black"},{"offset":0.7667,"color":"black"},{"offset":0.7667,"color":"white"},{"offset":0.7887,"color":"white"},{"offset":0.7887,"color":"black"},{"offset":0.8,"color":"black"},{"offset":0.8,"color":"white"},{"offset":0.822,"color":"white"},{"offset":0.822,"color":"black"},{"offset":0.8333,"color":"black"},{"offset":0.8333,"color":"white"},{"offset":0.8553,"color":"white"},{"offset":0.8553,"color":"black"},{"offset":0.8667,"color":"black"},{"offset":0.8667,"color":"white"},{"offset":0.8887,"color":"white"},{"offset":0.8887,"color":"black"},{"offset":0.9,"color":"black"},{"offset":0.9,"color":"white"},{"offset":0.922,"color":"white"},{"offset":0.922,"color":"black"},{"offset":0.9333,"color":"black"},{"offset":0.9333,"color":"white"},{"offset":0.9553,"color":"white"},{"offset":0.9553,"color":"black"},{"offset":0.9667,"color":"black"},{"offset":0.9667,"color":"white"},{"offset":0.9887,"color":"white"},{"offset":0.9887,"color":"black"},{"offset":1,"color":"black"}]}}},
      {"transform": [{"filter": "datum.g == 'UT'"}], "mark": {"type": "bar", "color": "black"}},
      {"mark": {"type": "rule", "color": "#808080", "strokeWidth": 1.5},
       "encoding": {"y2": {"field": "hi"},
         "x": {"field": "k", "type": "nominal", "sort": ["AIG44|10","AIG44|1","AIG44|0.1","ACG44|10","ACG44|1","ACG44|0.1","AIG44P550|10","AIG44P550|1","AIG44P550|0.1","AC44P550|10","AC44P550|1","AC44P550|0.1","AIG44P1000|10","AIG44P1000|1","AIG44P1000|0.1","AC44P1000|10","AC44P1000|1","AC44P1000|0.1","GEM|10","GEM|1","GEM|0.1","C225|x","UT|x"], "scale": {"paddingInner": 0, "paddingOuter": 0},
           "axis": {"title": null, "orient": "bottom", "domainColor": "black", "domainWidth": 1.5, "tickBand": "extent", "tickSize": {"condition": {"test": "split(datum.value,'|')[1] == '0.1' || split(datum.value,'|')[1] == 'x' || datum.extra", "value": 60}, "value": 0}, "tickColor": "black", "tickWidth": 1.5, "labelAngle": 0, "labelFontSize": 12, "labelFontWeight": "bold", "labelColor": "black", "labelPadding": {"condition": {"test": "split(datum.value,'|')[1] == '0.1' || split(datum.value,'|')[1] == 'x' || datum.extra", "value": -51}, "value": 9}, "labelOverlap": false, "labelExpr": "split(datum.value,'|')[1] == 'x' ? '' : split(datum.value,'|')[1]"}}}},
      {"mark": {"type": "tick", "color": "#808080", "size": 7, "thickness": 1.5},
       "encoding": {"y": {"field": "hi", "type": "quantitative", "scale": {"domain": [0,120], "nice": false}, "axis": null},
         "x": {"field": "k", "type": "nominal", "sort": ["AIG44|10","AIG44|1","AIG44|0.1","ACG44|10","ACG44|1","ACG44|0.1","AIG44P550|10","AIG44P550|1","AIG44P550|0.1","AC44P550|10","AC44P550|1","AC44P550|0.1","AIG44P1000|10","AIG44P1000|1","AIG44P1000|0.1","AC44P1000|10","AC44P1000|1","AC44P1000|0.1","GEM|10","GEM|1","GEM|0.1","C225|x","UT|x"], "scale": {"paddingInner": 0, "paddingOuter": 0},
           "axis": {"title": null, "orient": "bottom", "domain": false, "ticks": false, "values": ["AIG44|10","ACG44|10","AIG44P550|10","AC44P550|10","AIG44P1000|10","AC44P1000|10","GEM|10","C225|x","UT|x"], "labelAngle": 0, "labelFontSize": 13, "labelFontWeight": "bold", "labelColor": "black", "labelLineHeight": 18, "labelBaseline": "top", "labelPadding": 33, "labelOverlap": false, "labelOffset": {"condition": {"test": "split(datum.value,'|')[1] == 'x'", "value": 0}, "value": 29.5}, "labelExpr": "split(datum.value,'|')[1] == 'x' ? split(datum.value,'|')[0] : [split(datum.value,'|')[0], '(μM)']"}}}},
      {"transform": [{"filter": "datum.star == 1"}], "mark": {"type": "text", "text": "*", "fontSize": 20, "fontWeight": "bold", "baseline": "alphabetic", "dy": -1, "color": "black"},
       "encoding": {"y": {"field": "hi", "type": "quantitative", "scale": {"domain": [0,120], "nice": false}, "axis": null}}},
      {"transform": [{"filter": "isValid(datum.lo)"}], "mark": {"type": "rule", "color": "black", "strokeWidth": 1},
       "encoding": {"y": {"field": "lo", "type": "quantitative", "scale": {"domain": [0,120], "nice": false}, "axis": null}, "y2": {"field": "bk"}}},
      {"transform": [{"filter": "isValid(datum.bk)"}], "mark": {"type": "line", "color": "black", "strokeWidth": 1},
       "encoding": {"y": {"field": "bk", "type": "quantitative", "scale": {"domain": [0,120], "nice": false}, "axis": null}}}
    ]
  }
]
}
